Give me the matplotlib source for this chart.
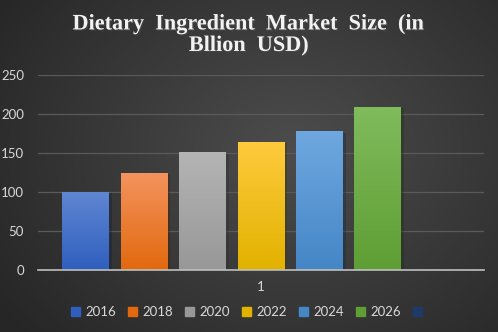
import numpy as np
import matplotlib
matplotlib.use('Agg')
import matplotlib.pyplot as plt
import matplotlib.patheffects as pe
from matplotlib.colors import LinearSegmentedColormap

title = 'Dietary  Ingredient  Market  Size  (in\nBllion  USD)'
series = ['2016', '2018', '2020', '2022', '2024', '2026', '']
values = [100, 124.5, 151, 164, 178, 209, 0]
category = ['1']
top_colors = ['#5f86d2', '#f3935e', '#b4b4b4', '#ffca3c', '#6fa8e0', '#80bb5c', '#2c4c85']
bottom_colors = ['#2f5fbe', '#e2690f', '#989898', '#e2b200', '#4586c6', '#5e9e34', '#1f3a6a']

fig = plt.figure(figsize=(4.98, 3.32), dpi=100)

# dark radial background
bg = fig.add_axes([0, 0, 1, 1], zorder=-10)
yy, xx = np.mgrid[0:332, 0:498]
r = np.sqrt(((xx - 290) / 330.0) ** 2 + ((yy - 150) / 260.0) ** 2)
shade = np.clip(0.30 - 0.14 * r, 0.15, 0.30)
bg.imshow(np.dstack([shade] * 3), aspect='auto', extent=[0, 1, 0, 1])
bg.axis('off')

ax = fig.add_axes([38 / 498, 62 / 332, 446 / 498, 195 / 332])
ax.set_facecolor('none')

n = len(series)
step = 58.4 / 446
width = 47 / 446
handles = []
for i, (name, val) in enumerate(zip(series, values)):
    xpos = (i - (n - 1) / 2) * step
    bars = ax.bar(xpos, val, width=width, color=bottom_colors[i], zorder=3,
                  linewidth=0)
    patch = bars[0]
    if val > 0:
        patch.set_path_effects([pe.SimplePatchShadow(offset=(2, -1), alpha=0.35),
                                pe.Normal()])
        cmap = LinearSegmentedColormap.from_list('g%d' % i,
                                                 [bottom_colors[i], top_colors[i]])
        grad = np.linspace(1, 0, 100).reshape(-1, 1)
        im = ax.imshow(grad, cmap=cmap, aspect='auto', zorder=4,
                       extent=[xpos - width / 2, xpos + width / 2, 0, val])
        im.set_clip_path(patch)
    handles.append(plt.Rectangle((0, 0), 1, 1, color=bottom_colors[i]))

ax.set_xlim(-0.5, 0.5)
ax.set_ylim(0, 250)
ax.set_yticks(range(0, 251, 50))
ax.set_xticks([0])
ax.set_xticklabels(category)
ax.yaxis.grid(True, color='#5a5a5a', linewidth=0.9, zorder=0)
ax.set_axisbelow(True)
for side in ['top', 'right', 'left']:
    ax.spines[side].set_visible(False)
ax.spines['bottom'].set_color('#bfbfbf')
ax.spines['bottom'].set_linewidth(1.2)
ax.spines['bottom'].set_zorder(5)
ax.tick_params(axis='both', length=0, colors='#d9d9d9', labelsize=9.5)
ax.tick_params(axis='y', pad=10)
ax.tick_params(axis='x', pad=8)
for lbl in ax.get_xticklabels() + ax.get_yticklabels():
    lbl.set_family('Lato')

fig.text(0.5, 0.894, title, ha='center', va='center', color='#f2f2f2',
         fontsize=16, fontweight='bold', family='Liberation Serif',
         linespacing=1.1,
         path_effects=[pe.withSimplePatchShadow(offset=(1, -1), alpha=0.6)])

fig.legend(handles, series, loc='center', bbox_to_anchor=(0.5, 0.06),
           ncol=n, frameon=False, prop={'family': 'Lato', 'size': 9.5},
           labelcolor='#d9d9d9',
           handlelength=0.7, handleheight=0.7, handletextpad=0.4,
           columnspacing=0.9)

fig.savefig('out.png', dpi=100)
